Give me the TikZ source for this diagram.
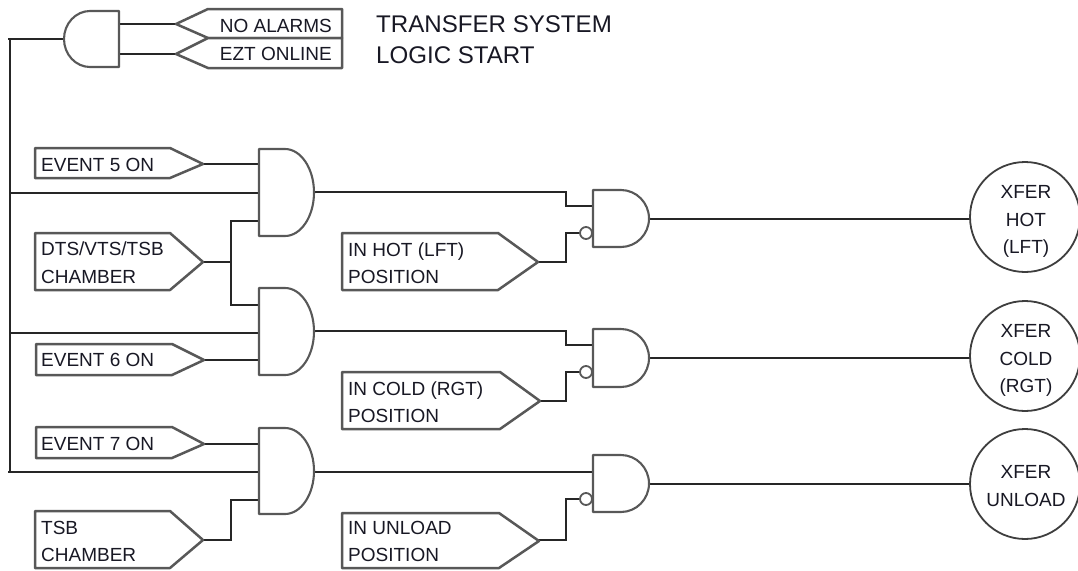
\documentclass[tikz,border=0pt]{standalone}
\usepackage{fontspec}
\setmainfont{Liberation Sans}
\definecolor{wirec}{HTML}{262626}
\definecolor{shapec}{HTML}{585858}
\definecolor{textc}{HTML}{181824}
\tikzset{
  wire/.style={draw=wirec,line width=1.5pt},
  gateline/.style={draw=shapec,line width=2.1pt,line join=round,fill=white},
  tagline/.style={draw=shapec,line width=2.5pt,line join=round,fill=white},
  label/.style={inner sep=0pt,text=textc,align=left,font=\fontsize{19}{27.5}\selectfont},
  title/.style={inner sep=0pt,text=textc,align=left,font=\fontsize{24.1}{31}\selectfont},
  bubble/.style={circle,draw=shapec,line width=1.8pt,fill=white,minimum size=12pt,inner sep=0pt},
  lamp/.style={circle,draw=shapec!70!black,line width=1.8pt,fill=white,minimum size=110pt,inner sep=0pt},
  lamptext/.style={inner sep=0pt,text=textc,align=center,font=\fontsize{19}{27.5}\selectfont},
}
% #1 name, #2 flat x, #3 shoulder x, #4 tip x, #5 top y, #6 bottom y
\newcommand{\gateshape}[6]{%
  \pgfmathsetmacro{\gm}{(#5+#6)/2}%
  \pgfmathsetmacro{\gcx}{#3+0.55*(#4-#3)}%
  \pgfmathsetmacro{\gca}{\gm-0.55*(\gm-#5)}%
  \pgfmathsetmacro{\gcb}{\gm+0.55*(\gm-#5)}%
  \draw[gateline] (#2,#5) -- (#3,#5) .. controls (\gcx,#5) and (#4,\gca) .. (#4,\gm)
     .. controls (#4,\gcb) and (\gcx,#6) .. (#3,#6) -- (#2,#6) -- cycle;
  \coordinate (#1) at (#4,\gm);%
}
% #1 name, #2 left x, #3 shoulder x, #4 tip x, #5 top y, #6 bottom y, #7 tip y
\newcommand{\tagshape}[7]{%
  \draw[tagline] (#2,#5) -- (#3,#5) -- (#4,#7) -- (#3,#6) -- (#2,#6) -- cycle;
  \coordinate (#1) at (#4,#7);%
}
\begin{document}
\begin{tikzpicture}[x=1pt,y=-1pt]
\path[use as bounding box,fill=white] (0,0) rectangle (1078,570);
\clip (0,0) rectangle (1078,570);

% pins
\coordinate (bustop) at (8,39);
\coordinate (busbot) at (8,472);
\coordinate (busa) at (10,193);
\coordinate (busb) at (10,333);
\coordinate (start) at (64,39);
\coordinate (s1) at (119,24);
\coordinate (s2) at (119,54);
\coordinate (a1) at (259,164);
\coordinate (a2) at (259,193);
\coordinate (a3) at (259,221);
\coordinate (b1) at (259,305);
\coordinate (b2) at (259,333);
\coordinate (b3) at (259,360);
\coordinate (c1) at (259,444);
\coordinate (c2) at (259,472);
\coordinate (c3) at (259,500);
\coordinate (ha) at (593,206);
\coordinate (ca) at (593,345);
\coordinate (ua) at (593,472);
\coordinate (jd) at (231,262);

% wires
\draw[wire] (bustop) -- (start);
\draw[wire] (10,39) -- (10,472);
\draw[wire] (busbot) -- (c2);
\draw[wire] (busa) -- (a2);
\draw[wire] (busb) -- (b2);
\draw[wire] (s1) -- (176,24);
\draw[wire] (s2) -- (176,54);
\draw[wire] (203,164) -- (a1);
\draw[wire] (204,360) -- (b3);
\draw[wire] (204,444) -- (c1);
\draw[wire] (203,262) -- (jd);
\draw[wire] (a3) -- (jd |- a3) -- (jd |- b1) -- (b1);
\draw[wire] (203,540) -- (231,540) -- (231,500) -- (c3);
\draw[wire] (314,192) -- (566,192) -- (566,206) -- (ha);
\draw[wire] (314,331) -- (566,331) -- (566,345) -- (ca);
\draw[wire] (314,472) -- (ua);
\draw[wire] (538,262) -- (566,262) -- (566,233) -- (582,233);
\draw[wire] (540,401) -- (566,401) -- (566,372) -- (582,372);
\draw[wire] (537,540) -- (566,540) -- (566,499) -- (582,499);
\draw[wire] (649,219) -- (971,219);
\draw[wire] (649,358) -- (971,358);
\draw[wire] (649,484) -- (971,484);

% gates
\gateshape{gs}{119}{90}{64}{11}{67}
\gateshape{g1}{259}{285}{314}{149}{236}
\gateshape{g2}{259}{285}{314}{288}{375}
\gateshape{g3}{259}{285}{314}{428}{514}
\gateshape{gh}{593}{621}{649}{190}{247}
\gateshape{gc}{593}{621}{649}{329}{387}
\gateshape{gu}{593}{621}{649}{455}{512}

% bubbles
\node[bubble] (nh) at (586,233) {};
\node[bubble] (nc) at (586,372) {};
\node[bubble] (nu) at (586,499) {};

% tags
\tagshape{t1}{342}{208}{176}{9}{38}{24}
\tagshape{t2}{342}{208}{176}{38}{68}{54}
\tagshape{t3}{35}{170}{203}{148}{178}{164}
\tagshape{t4}{35}{170}{203}{233}{290}{262}
\tagshape{t5}{36}{172}{204}{344}{375}{360}
\tagshape{t6}{36}{172}{204}{427}{458}{444}
\tagshape{t7}{35}{170}{203}{511}{568}{540}
\tagshape{t8}{342}{498}{538}{233}{290}{262}
\tagshape{t9}{342}{500}{540}{372}{429}{401}
\tagshape{t10}{342}{499}{539}{513}{568}{541}

% tag text
\node[label,anchor=east] (lna) at (332,26) {NO ALARMS};
\node[label,anchor=east] (lez) at (332,54) {EZT ONLINE};
\node[label,anchor=west] (lev5) at (41,165) {EVENT 5 ON};
\node[label,anchor=west] (ldts) at (41,262.5) {DTS/VTS/TSB\\CHAMBER};
\node[label,anchor=west] (lev6) at (41,360) {EVENT 6 ON};
\node[label,anchor=west] (lev7) at (41,443.5) {EVENT 7 ON};
\node[label,anchor=west] (ltsb) at (41,541.5) {TSB\\CHAMBER};
\node[label,anchor=west] (lhot) at (348,263) {IN HOT (LFT)\\POSITION};
\node[label,anchor=west] (lcold) at (348,402) {IN COLD (RGT)\\POSITION};
\node[label,anchor=west] (luln) at (348,541.5) {IN UNLOAD\\POSITION};

% title
\node[title,anchor=west] (ttl) at (376,39.5) {TRANSFER SYSTEM\\LOGIC START};

% lamps
\node[lamp] (lh) at (1025,217) {};
\node[lamp] (lc) at (1025,356) {};
\node[lamp] (lu) at (1025,484) {};
\node[lamptext] at (1026,221.5) {XFER\\HOT\\(LFT)};
\node[lamptext] at (1026,360.5) {XFER\\COLD\\(RGT)};
\node[lamptext] at (1026,486) {XFER\\UNLOAD};
\end{tikzpicture}
\end{document}
